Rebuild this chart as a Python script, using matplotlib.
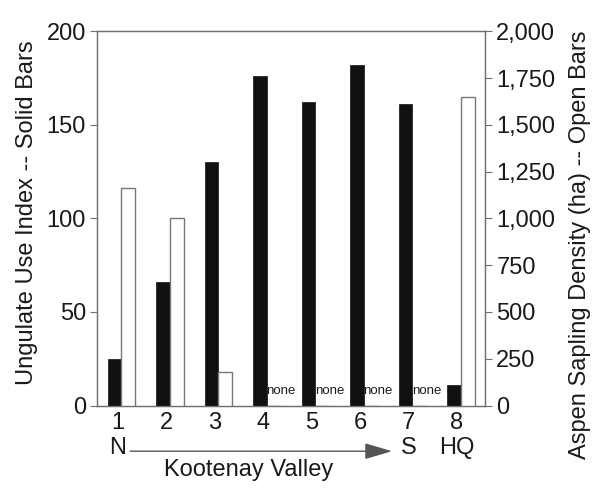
import matplotlib
matplotlib.use("Agg")
import matplotlib.pyplot as plt
from matplotlib.ticker import StrMethodFormatter, MultipleLocator
from matplotlib.transforms import blended_transform_factory
from matplotlib.patches import FancyArrowPatch

plt.rcParams['font.family'] = ['Liberation Sans', 'DejaVu Sans']

# Sites along the valley, north to south, plus headquarters
sites = [1, 2, 3, 4, 5, 6, 7, 8]
site_labels = ["1\nN", "2", "3", "4", "5", "6", "7\nS", "8\nHQ"]
ungulate_use = [25, 66, 130, 176, 162, 182, 161, 11]
aspen_density = [1165, 1000, 178, 0, 0, 0, 0, 1650]

ink = "#1a1a1a"
axis_grey = "#707070"
fs = 17

fig = plt.figure(figsize=(5.96, 4.88), dpi=100)
ax = fig.add_axes([0.163, 0.169, 0.651, 0.767])
ax2 = ax.twinx()

w = 0.285
ax.bar([s - w / 2 for s in sites], ungulate_use, width=w, color="#111111",
       edgecolor="#111111", linewidth=0.5, zorder=3)
ax2.bar([s + w / 2 for s in sites], aspen_density, width=w, color="white",
        edgecolor="#777777", linewidth=1.0, zorder=3)

for s, v in zip(sites, aspen_density):
    if v == 0:
        ax2.text(s - 0.01, 78, "none", ha="left", va="center", fontsize=9.5,
                 color=ink)

ax.set_xlim(0.5, 8.5)
ax.set_ylim(0, 200)
ax2.set_ylim(0, 2000)
ax.yaxis.set_major_locator(MultipleLocator(50))
ax2.yaxis.set_major_locator(MultipleLocator(250))
ax2.yaxis.set_major_formatter(StrMethodFormatter("{x:,.0f}"))

ax.set_xticks([s - 0.08 for s in sites])
ax.set_xticklabels(site_labels, linespacing=1.15)
ax.tick_params(axis="x", length=0, pad=5, labelsize=fs, labelcolor=ink)
ax.tick_params(axis="y", direction="out", length=5, width=0.8,
               color=axis_grey, labelsize=fs, labelcolor=ink, pad=3)
ax2.tick_params(axis="y", direction="out", length=5, width=0.8,
                color=axis_grey, labelsize=fs, labelcolor=ink, pad=3)

for a in (ax, ax2):
    for sp in a.spines.values():
        sp.set_color(axis_grey)
        sp.set_linewidth(0.9)

ax.set_ylabel("Ungulate Use Index -- Solid Bars", fontsize=fs, color=ink)
ax.yaxis.set_label_coords(-0.152, 0.515)
ax2.set_ylabel("Aspen Sapling Density (ha) -- Open Bars", fontsize=fs,
               color=ink, rotation=90)
ax2.yaxis.set_label_coords(1.217, 0.43)

# North-to-south arrow and the valley caption beneath the site labels
tr = blended_transform_factory(ax.transData, ax.transAxes)
arrow = FancyArrowPatch((1.18, -0.122), (6.58, -0.122), transform=tr,
                        arrowstyle="-|>,head_length=1.7,head_width=0.5",
                        mutation_scale=10, color="#555555", linewidth=1.0,
                        clip_on=False, shrinkA=0, shrinkB=0)
ax.add_patch(arrow)
ax.text(3.63, -0.172, "Kootenay Valley", transform=tr, ha="center",
        va="center", fontsize=fs, color=ink, clip_on=False)

fig.savefig("out.png", dpi=100, facecolor="white")
